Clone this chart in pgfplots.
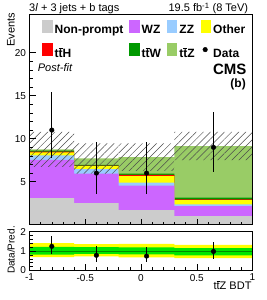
\documentclass[border=0pt]{standalone}
\usepackage{fontspec}
\setmainfont{Liberation Sans}
\usepackage{pgfplots}
\pgfplotsset{compat=1.18}
\usetikzlibrary{patterns.meta}
\definecolor{npgray}{RGB}{204,204,204}
\definecolor{wzpurple}{RGB}{204,102,255}
\definecolor{zzblue}{RGB}{153,204,255}
\definecolor{othyellow}{RGB}{255,255,0}
\definecolor{tthred}{RGB}{255,0,0}
\definecolor{ttwgreen}{RGB}{0,153,0}
\definecolor{ttzgreen}{RGB}{153,204,102}
\definecolor{bandgreen}{RGB}{0,230,0}
\definecolor{linegreen}{RGB}{0,140,0}
\newcommand{\tb}{$\overline{\mbox{t}}$}
\begin{document}
\begin{tikzpicture}
\useasboundingbox (0,0) rectangle (266pt,300pt);
\pgfplotsset{
  rootstyle/.style={
    scale only axis, width=223pt,
    xmin=-1, xmax=1,
    axis on top,
    tick align=inside, xtick pos=bottom, ytick pos=left,
    major tick length=6pt, minor tick length=3pt,
    axis line style={line width=0.6pt},
    every tick/.style={black, line width=0.5pt},
    every minor tick/.style={black, line width=0.5pt},
    tick label style={font=\fontsize{10}{12}\selectfont},
    xtick={-1,-0.5,0,0.5,1}, minor x tick num=4,
  },
  lbox/.style={legend image code/.code={\fill[#1] (0pt,-1.8pt) rectangle (9.4pt,10.2pt);}},
}
\begin{axis}[rootstyle, name=top,
  at={(29.5pt,75.3pt)}, anchor=south west, height=210.7pt,
  ymin=0, ymax=24.5,
  xticklabels={},
  ytick={5,10,15,20}, yticklabels={5,10,15,20}, minor y tick num=4,
  legend columns=4, legend cell align=left,
  legend style={at={(axis description cs:0.0574,0.9715)}, anchor=north west,
    draw=none, fill=none, inner sep=0pt, outer sep=0pt,
    font=\fontsize{12}{14}\selectfont\bfseries,
    nodes={inner sep=0pt, text height=9pt, text depth=2.6pt},
    row sep=7.2pt,
    /tikz/every odd column/.append style={column sep=2.6pt},
    /tikz/every even column/.append style={column sep=6pt}},
]
\addlegendimage{lbox=npgray}\addlegendentry{Non-prompt}
\addlegendimage{lbox=wzpurple}\addlegendentry{WZ}
\addlegendimage{lbox=zzblue}\addlegendentry{ZZ}
\addlegendimage{lbox=othyellow}\addlegendentry{Other}
\addlegendimage{lbox=tthred}\addlegendentry{t\tb H}
\addlegendimage{lbox=ttwgreen}\addlegendentry{t\tb W}
\addlegendimage{lbox=ttzgreen}\addlegendentry{t\tb Z}
\addlegendimage{legend image code/.code={\fill[black] (4.2pt,4.2pt) circle (2.3pt);}}\addlegendentry{Data}
% cumulative stack tops (bins: [-1,-0.6], [-0.6,-0.2], [-0.2,0.3], [0.3,1])
\addplot[const plot, fill=ttzgreen, draw=none, forget plot] coordinates {(-1,8.75) (-0.6,7.7) (-0.2,7.85) (0.3,9.15) (1,9.15)} \closedcycle;
\addplot[const plot, fill=ttwgreen, draw=none, forget plot] coordinates {(-1,8.6) (-0.6,6.95) (-0.2,5.95) (0.3,3.15) (1,3.15)} \closedcycle;
\addplot[const plot, fill=tthred, draw=none, forget plot] coordinates {(-1,8.5) (-0.6,6.87) (-0.2,5.8) (0.3,2.95) (1,2.95)} \closedcycle;
\addplot[const plot, fill=othyellow, draw=none, forget plot] coordinates {(-1,8.4) (-0.6,6.8) (-0.2,5.65) (0.3,2.85) (1,2.85)} \closedcycle;
\addplot[const plot, fill=zzblue, draw=none, forget plot] coordinates {(-1,8.05) (-0.6,6.45) (-0.2,4.9) (0.3,2.35) (1,2.35)} \closedcycle;
\addplot[const plot, fill=wzpurple, draw=none, forget plot] coordinates {(-1,7.55) (-0.6,5.95) (-0.2,4.55) (0.3,2.15) (1,2.15)} \closedcycle;
\addplot[const plot, fill=npgray, draw=none, forget plot] coordinates {(-1,3.1) (-0.6,2.5) (-0.2,1.7) (0.3,1.0) (1,1.0)} \closedcycle;
% uncertainty band
\addplot[draw=none, pattern={Lines[angle=45,distance=5pt,line width=0.5pt]}, pattern color=black!70, forget plot]
  coordinates {(-1,10.78) (-0.6,10.78) (-0.6,9.46) (-0.2,9.46) (0.3,9.46) (0.3,10.78) (1,10.78)
               (1,7.52) (0.3,7.52) (0.3,6.25) (-0.2,6.25) (-0.2,5.94) (-0.6,5.94) (-0.6,6.72) (-1,6.72)} -- cycle;
% data
\addplot[only marks, mark=*, mark size=2.3pt, black, forget plot,
  error bars/.cd, y dir=both, y explicit, error mark=none,
  error bar style={line width=0.8pt, black}]
  coordinates {(-0.8,11) += (0,4.4) -= (0,3.3)
               (-0.4,6) += (0,3.6) -= (0,2.4)
               (0.05,6) += (0,3.6) -= (0,2.4)
               (0.65,9) += (0,4.1) -= (0,2.9)};
\end{axis}
\begin{axis}[rootstyle, name=bottom,
  at={(29.5pt,29.5pt)}, anchor=south west, height=39.5pt,
  ymin=0, ymax=2.03,
  xticklabels={-1,-0.5,0,0.5,1},
  ytick={0,1,2}, yticklabels={0,1,2}, minor y tick num=4,
]
\addplot[fill=othyellow, draw=none]
  coordinates {(-1,1.41) (-0.6,1.41) (-0.6,1.36) (-0.2,1.36) (-0.2,1.37) (0.3,1.37) (0.3,1.32) (1,1.32)
               (1,0.64) (0.3,0.64) (0.3,0.68) (-0.2,0.68) (-0.2,0.73) (-0.6,0.73) (-0.6,0.69) (-1,0.69)} -- cycle;
\addplot[fill=bandgreen, draw=none]
  coordinates {(-1,1.22) (-0.6,1.22) (-0.6,1.2) (-0.2,1.2) (-0.2,1.19) (0.3,1.19) (0.3,1.15) (1,1.15)
               (1,0.78) (0.3,0.78) (0.3,0.83) (-0.2,0.83) (-0.2,0.85) (-0.6,0.85) (-0.6,0.81) (-1,0.81)} -- cycle;
\addplot[linegreen, line width=0.8pt] coordinates {(-1,1) (1,1)};
\addplot[only marks, mark=*, mark size=2.3pt, black,
  error bars/.cd, y dir=both, y explicit, error mark=none,
  error bar style={line width=0.8pt, black}]
  coordinates {(-0.8,1.24) += (0,0.51) -= (0,0.39)
               (-0.4,0.78) += (0,0.46) -= (0,0.33)
               (0.05,0.74) += (0,0.45) -= (0,0.32)
               (0.65,0.98) += (0,0.47) -= (0,0.38)};
\end{axis}
% texts
\node[anchor=base west, inner sep=0pt, font=\fontsize{11}{13}\selectfont] at (29pt,288pt) {3\textit{l} + 3 jets + b tags};
\node[anchor=base east, inner sep=0pt, font=\fontsize{11}{13}\selectfont] at (248.3pt,288pt) {19.5 fb\textsuperscript{-1} (8 TeV)};
\node[anchor=base west, inner sep=0pt, font=\fontsize{11}{13}\selectfont\itshape] at (37.7pt,228.3pt) {Post-fit};
\node[anchor=base east, inner sep=0pt, font=\fontsize{15}{17}\selectfont\bfseries] at (246.7pt,225pt) {CMS};
\node[anchor=base east, inner sep=0pt, font=\fontsize{12}{14}\selectfont\bfseries] at (246pt,212.5pt) {(b)};
\node[anchor=east, rotate=90, inner sep=0pt, font=\fontsize{11}{13}\selectfont] at (11pt,287pt) {Events};
\node[anchor=center, rotate=90, inner sep=0pt, font=\fontsize{10}{12}\selectfont] at (11pt,50pt) {Data/Pred.};
\node[anchor=base east, inner sep=0pt, font=\fontsize{11}{13}\selectfont] at (251.7pt,10.5pt) {t\tb Z BDT};
\end{tikzpicture}
\end{document}
